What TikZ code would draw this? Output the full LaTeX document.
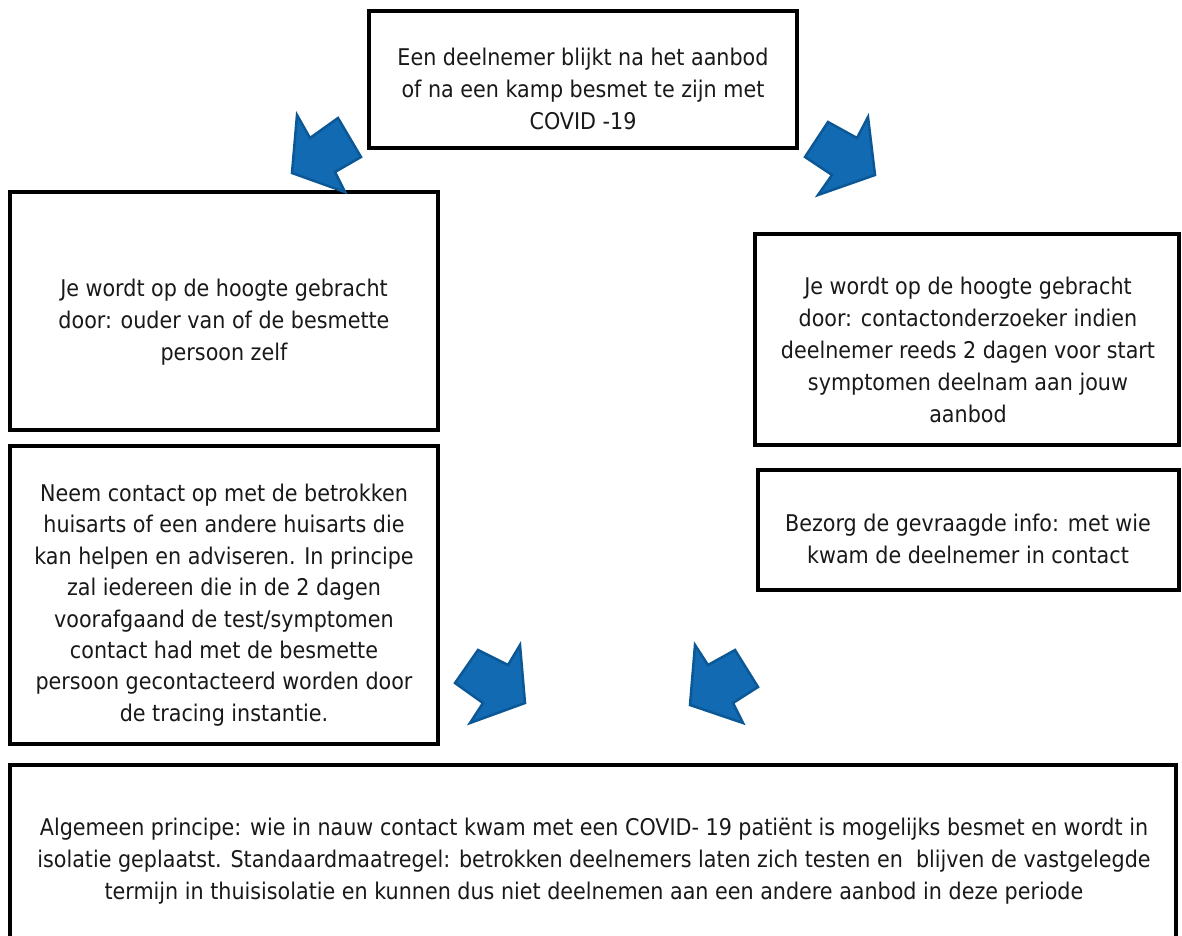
\documentclass[tikz,border=0pt]{standalone}
\usepackage{fontspec}
\setmainfont{DejaVu Sans Condensed}
\definecolor{arrowblue}{RGB}{18,106,178}
\definecolor{arrowedge}{RGB}{12,88,150}
\definecolor{txtcol}{RGB}{25,25,25}
\begin{document}
\begin{tikzpicture}[x=1pt,y=-1pt,
  box/.style={draw=black, line width=3.5pt, fill=white, inner sep=0pt},
  txt/.style={align=center, font=\fontsize{23}{32}\selectfont, text=txtcol, inner sep=0pt},
  blockarrow/.style={fill=arrowblue, draw=arrowedge, line width=2.5pt, line join=miter}]
\useasboundingbox (0,0) rectangle (1182,935);
\fill[white] (0,0) rectangle (1182,935);

% boxes
\node[box, minimum width=428pt, minimum height=137pt] (top) at (583,79.5) {};
\node[box, minimum width=428pt, minimum height=238pt] (left1) at (224,311) {};
\node[box, minimum width=424pt, minimum height=211pt] (right1) at (967,339.5) {};
\node[box, minimum width=428pt, minimum height=298pt] (left2) at (224,595) {};
\node[box, minimum width=421pt, minimum height=120pt] (right2) at (968.5,530) {};
\node[box, minimum width=1166pt, minimum height=180pt] (bottom) at (593,855) {};

% texts
\node[txt] (toptext) at (583,89) {Een deelnemer blijkt na het aanbod\\of na een kamp besmet te zijn met\\COVID -19};
\node[txt] (left1text) at (224,322) {Je wordt op de hoogte gebracht\\door: ouder van of de besmette\\persoon zelf};
\node[txt] (right1text) at (968,350) {Je wordt op de hoogte gebracht\\door: contactonderzoeker indien\\deelnemer reeds 2 dagen voor start\\symptomen deelnam aan jouw\\aanbod};
\node[txt, font=\fontsize{23}{31.4}\selectfont] (left2text) at (224,605) {Neem contact op met de betrokken\\huisarts of een andere huisarts die\\kan helpen en adviseren. In principe\\zal iedereen die in de 2 dagen\\voorafgaand de test/symptomen\\contact had met de besmette\\persoon gecontacteerd worden door\\de tracing instantie.};
\node[txt] (right2text) at (968,539) {Bezorg de gevraagde info: met wie\\kwam de deelnemer in contact};
\node[txt] (bottomtext) at (594,861) {Algemeen principe: wie in nauw contact kwam met een COVID- 19 patiënt is mogelijks besmet en wordt in\\isolatie geplaatst. Standaardmaatregel: betrokken deelnemers laten zich testen en\ \ blijven de vastgelegde\\termijn in thuisisolatie en kunnen dus niet deelnemen aan een andere aanbod in deze periode};

% block arrows
\draw[blockarrow] (292,173) -- (297,115) -- (310,138) -- (338,118) -- (361,157) -- (335,172) -- (345,192) -- cycle;
\draw[blockarrow] (875,175) -- (818,195) -- (832,175) -- (805,157) -- (828,122) -- (857,138) -- (868,117) -- cycle;
\draw[blockarrow] (525,703) -- (470,723) -- (483,703) -- (455,683) -- (478,650) -- (508,665) -- (520,645) -- cycle;
\draw[blockarrow] (690,705) -- (695,645) -- (708,665) -- (735,650) -- (758,687) -- (733,703) -- (743,723) -- cycle;
\end{tikzpicture}
\end{document}
